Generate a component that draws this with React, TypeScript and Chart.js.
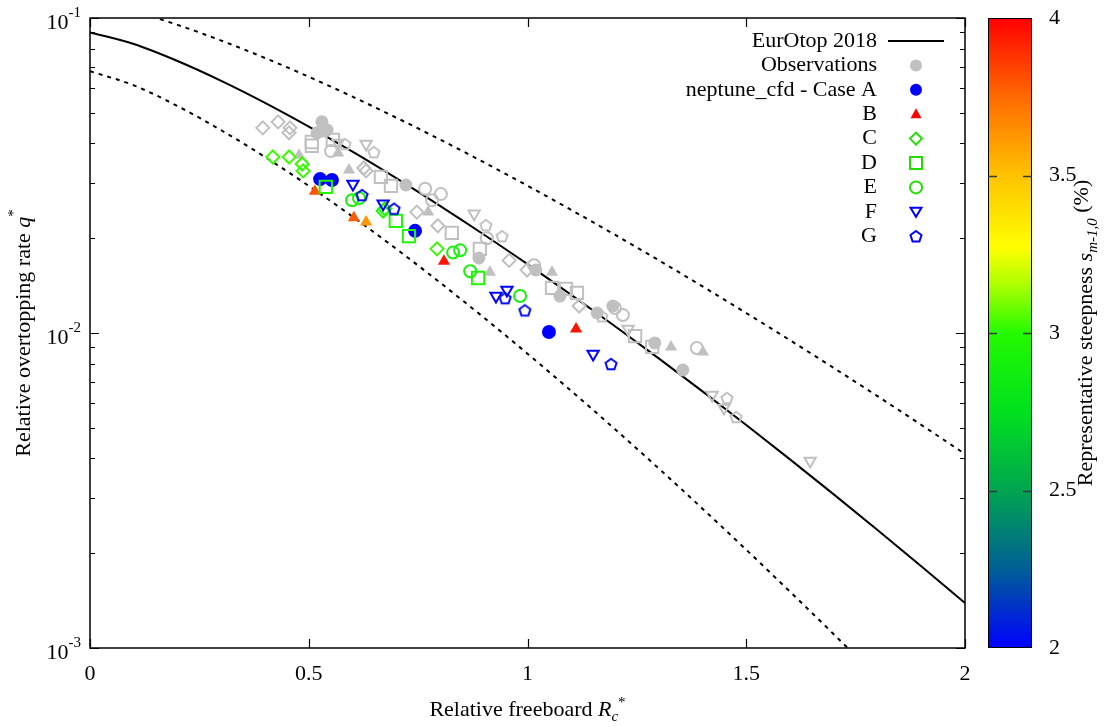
import React, { useEffect, useRef } from "react";
import { Chart, registerables } from "chart.js";

Chart.register(...registerables);

const W = 1107;
const H = 727;
const FONT = "'Liberation Serif', 'Times New Roman', Times, serif";

// ---- EurOtop 2018 mean curve and 90% band, sampled at Rc* = 0, 0.1, ... ----
const curveRc = [0, 0.1, 0.2, 0.3, 0.4, 0.5, 0.6, 0.7, 0.8, 0.9, 1.0, 1.1, 1.2, 1.3, 1.4, 1.5, 1.6, 1.7, 1.8, 1.9, 2.0];
const eurotopQ = [0.09, 0.08267, 0.07302, 0.06316, 0.05379, 0.04523, 0.03763, 0.03101, 0.02534, 0.02055, 0.01654, 0.01322, 0.01051, 0.008306, 0.006528, 0.005104, 0.003971, 0.003074, 0.00237, 0.001818, 0.001389];
const upperQ = [0.11221, 0.10492, 0.09509, 0.08478, 0.07466, 0.06509, 0.05627, 0.04827, 0.04114, 0.03485, 0.02935, 0.02459, 0.02051, 0.01702, 0.01406, 0.01157, 0.009484, 0.007746, 0.006302, 0.00511, 0.004129];
const lowerQ = [0.06779, 0.06113, 0.05254, 0.04402, 0.0362, 0.02931, 0.02342, 0.0185, 0.01446, 0.0112, 0.008598, 0.006548, 0.004949, 0.003715, 0.002769, 0.002051, 0.00151, 0.001106, 0.000805];

// ---- Observations (grey), marker kind per point ----
const obsRc = [
  0.530, 0.542, 0.519, 0.533, 0.722, 0.889, 1.019, 1.074, 1.159, 1.195, 1.291, 1.355,
  0.478, 0.567, 0.592, 0.773, 0.914, 1.056, 1.328, 1.401,
  0.395, 0.430, 0.457, 0.455, 0.626, 0.631, 0.747, 0.795, 0.958, 0.999, 1.118,
  0.507, 0.507, 0.555, 0.665, 0.688, 0.827, 0.891, 1.056, 1.088, 1.113, 1.246, 1.285,
  0.551, 0.766, 0.802, 0.782, 0.907, 1.015, 1.200, 1.218, 1.387,
  0.567, 0.631, 0.878, 1.230, 1.422, 1.449, 1.646,
  0.583, 0.649, 0.905, 0.942, 1.170, 1.456, 1.477,
];
const obsQ = [
  0.0468, 0.0441, 0.0432, 0.0438, 0.0295, 0.0173, 0.01585, 0.0131, 0.01158, 0.01218, 0.0093, 0.00763,
  0.0367, 0.0373, 0.0329, 0.0242, 0.0156, 0.0156, 0.00903, 0.0087,
  0.0448, 0.0468, 0.0448, 0.0432, 0.0334, 0.0327, 0.0242, 0.0219, 0.017, 0.01585, 0.01218,
  0.0404, 0.0393, 0.041, 0.0313, 0.0293, 0.0208, 0.0185, 0.0139, 0.0138, 0.0134, 0.00978, 0.00903,
  0.0378, 0.0287, 0.0276, 0.0264, 0.02, 0.0164, 0.012, 0.0114, 0.00896,
  0.0401, 0.0398, 0.0239, 0.01029, 0.00636, 0.00578, 0.00392,
  0.0398, 0.0375, 0.022, 0.0203, 0.0113, 0.00622, 0.00541,
];
const obsMarker = [
  "fc", "fc", "fc", "fc", "fc", "fc", "fc", "fc", "fc", "fc", "fc", "fc",
  "ft", "ft", "ft", "ft", "ft", "ft", "ft", "ft",
  "od", "od", "od", "od", "od", "od", "od", "od", "od", "od", "od",
  "os", "os", "os", "os", "os", "os", "os", "os", "os", "os", "os", "os",
  "oc", "oc", "oc", "oc", "oc", "oc", "oc", "oc", "oc",
  "ot", "ot", "ot", "ot", "ot", "ot", "ot",
  "op", "op", "op", "op", "op", "op", "op",
];

// ---- neptune_cfd cases: Rc*, q*, steepness (%) ----
const caseARc = [0.526, 0.553, 0.743, 1.049];
const caseAQ = [0.0308, 0.0306, 0.0211, 0.01007];
const caseAS = [2.0, 2.0, 2.0, 2.0];
const caseBRc = [0.514, 0.603, 0.631, 0.809, 1.111];
const caseBQ = [0.0282, 0.0232, 0.0225, 0.0169, 0.0103];
const caseBS = [3.8, 3.78, 3.62, 3.95, 3.96];
const caseCRc = [0.418, 0.455, 0.485, 0.487, 0.67, 0.674, 0.793];
const caseCQ = [0.0362, 0.0362, 0.0344, 0.0327, 0.0244, 0.0248, 0.0185];
const caseCS = [3.03, 3.03, 3.02, 3.02, 3.0, 3.0, 3.03];
const caseDRc = [0.539, 0.699, 0.729, 0.887];
const caseDQ = [0.0291, 0.0227, 0.0203, 0.01495];
const caseDS = [2.98, 2.98, 2.98, 2.98];
const caseERc = [0.599, 0.615, 0.83, 0.846, 0.869, 0.983];
const caseEQ = [0.0264, 0.0268, 0.018, 0.0183, 0.0157, 0.0131];
const caseES = [2.92, 2.92, 2.92, 2.92, 2.92, 2.92];
const caseFRc = [0.601, 0.67, 0.928, 0.953, 1.15];
const caseFQ = [0.0297, 0.0257, 0.0131, 0.0137, 0.00858];
const caseFS = [2.0, 2.0, 2.0, 2.0, 2.0];
const caseGRc = [0.622, 0.695, 0.949, 0.994, 1.191];
const caseGQ = [0.0274, 0.0248, 0.0129, 0.0118, 0.00797];
const caseGS = [2.02, 2.02, 2.02, 2.02, 2.02];

// ---- axis ticks / labels ----
const xTickValues = [0, 0.5, 1, 1.5, 2];
const xTickLabels = ["0", "0.5", "1", "1.5", "2"];
const yTickExponents = [-3, -2, -1];
const cbTickValues = [2, 2.5, 3, 3.5, 4];
const cbTickLabels = ["2", "2.5", "3", "3.5", "4"];
const legendLabels = ["EurOtop 2018", "Observations", "neptune_cfd - Case A", "B", "C", "D", "E", "F", "G"];

// ---- colour map (styles) ----
const CMAP: [number, number[]][] = [
  [2.0, [0, 0, 255]],
  [2.25, [0, 95, 150]],
  [2.5, [0, 165, 80]],
  [2.75, [0, 225, 30]],
  [3.0, [35, 250, 0]],
  [3.15, [170, 255, 0]],
  [3.27, [255, 255, 0]],
  [3.5, [255, 195, 0]],
  [3.75, [255, 105, 0]],
  [4.0, [255, 0, 0]],
];
function cmap(v: number): string {
  if (v <= CMAP[0][0]) return `rgb(${CMAP[0][1].join(",")})`;
  for (let i = 1; i < CMAP.length; i++) {
    if (v <= CMAP[i][0]) {
      const [v0, c0] = CMAP[i - 1];
      const [v1, c1] = CMAP[i];
      const t = (v - v0) / (v1 - v0);
      const c = c0.map((a, k) => Math.round(a + (c1[k] - a) * t));
      return `rgb(${c.join(",")})`;
    }
  }
  return `rgb(${CMAP[CMAP.length - 1][1].join(",")})`;
}

const GREY = "#c0c0c0";

function makePentagon(color: string, r: number, lw: number): HTMLCanvasElement {
  const size = Math.ceil(2 * r + lw + 2);
  const c = document.createElement("canvas");
  c.width = size;
  c.height = size;
  const g = c.getContext("2d")!;
  g.strokeStyle = color;
  g.lineWidth = lw;
  g.lineJoin = "miter";
  g.beginPath();
  for (let i = 0; i < 5; i++) {
    const a = -Math.PI / 2 + (i * 2 * Math.PI) / 5;
    const px = size / 2 + r * Math.cos(a);
    const py = size / 2 + 0.6 + r * Math.sin(a);
    if (i === 0) g.moveTo(px, py);
    else g.lineTo(px, py);
  }
  g.closePath();
  g.stroke();
  return c;
}

type Mk = { style: any; radius: number; filled: boolean; rotation: number };
function markerStyle(kind: string, color: string): Mk {
  switch (kind) {
    case "fc": return { style: "circle", radius: 6.5, filled: true, rotation: 0 };
    case "fcA": return { style: "circle", radius: 7, filled: true, rotation: 0 };
    case "ft": return { style: "triangle", radius: 7, filled: true, rotation: 0 };
    case "od": return { style: "rectRot", radius: 6.5, filled: false, rotation: 0 };
    case "os": return { style: "rect", radius: 8.7, filled: false, rotation: 0 };
    case "oc": return { style: "circle", radius: 6, filled: false, rotation: 0 };
    case "ot": return { style: "triangle", radius: 6.5, filled: false, rotation: 180 };
    case "op": return { style: makePentagon(color, 5.8, 2), radius: 6, filled: false, rotation: 0 };
  }
  return { style: "circle", radius: 5, filled: true, rotation: 0 };
}

function pointsDataset(label: string, rc: number[], q: number[], kinds: string[], colors: string[], order: number) {
  const ms = kinds.map((k, i) => markerStyle(k, colors[i]));
  return {
    label,
    data: rc.map((x, i) => ({ x, y: q[i] })),
    showLine: false,
    order,
    pointStyle: ms.map((m) => m.style),
    pointRadius: ms.map((m) => m.radius),
    pointRotation: ms.map((m) => m.rotation),
    pointBackgroundColor: ms.map((m, i) => (m.filled ? colors[i] : "rgba(0,0,0,0)")),
    pointBorderColor: colors,
    pointBorderWidth: ms.map((m) => (m.filled ? 0 : 2)),
  };
}

function caseDataset(label: string, rc: number[], q: number[], s: number[], kind: string, order: number) {
  return pointsDataset(label, rc, q, rc.map(() => kind), s.map(cmap), order);
}

function curveDataset(label: string, xs: number[], ys: number[], dash: number[]) {
  return {
    label,
    data: ys.map((y, i) => ({ x: xs[i], y })),
    showLine: true,
    borderColor: "#000",
    borderWidth: 2,
    borderDash: dash,
    pointRadius: 0,
    cubicInterpolationMode: "monotone",
    order: 20,
    clip: 0,
  };
}

type Part = { t: string; italic?: boolean; size?: number; dy?: number };
function fontOf(p: Part) {
  return `${p.italic ? "italic " : ""}${p.size || 22}px ${FONT}`;
}
function drawRich(ctx: CanvasRenderingContext2D, parts: Part[], x: number, y: number, align: string) {
  let w = 0;
  for (const p of parts) {
    ctx.font = fontOf(p);
    w += ctx.measureText(p.t).width;
  }
  let cx = align === "center" ? x - w / 2 : align === "right" ? x - w : x;
  ctx.textAlign = "left";
  ctx.textBaseline = "alphabetic";
  for (const p of parts) {
    ctx.font = fontOf(p);
    ctx.fillText(p.t, cx, y + (p.dy || 0));
    cx += ctx.measureText(p.t).width;
  }
}

function drawLegendMarker(ctx: CanvasRenderingContext2D, kind: string, x: number, y: number, color: string) {
  ctx.save();
  ctx.strokeStyle = color;
  ctx.fillStyle = color;
  ctx.lineWidth = 2;
  ctx.beginPath();
  if (kind === "fc") {
    ctx.arc(x, y, 6, 0, Math.PI * 2);
    ctx.fill();
  } else if (kind === "ft") {
    ctx.moveTo(x, y - 6);
    ctx.lineTo(x + 5.5, y + 4);
    ctx.lineTo(x - 5.5, y + 4);
    ctx.closePath();
    ctx.fill();
  } else if (kind === "od") {
    ctx.moveTo(x, y - 6);
    ctx.lineTo(x + 6, y);
    ctx.lineTo(x, y + 6);
    ctx.lineTo(x - 6, y);
    ctx.closePath();
    ctx.stroke();
  } else if (kind === "os") {
    ctx.rect(x - 6, y - 6, 12, 12);
    ctx.stroke();
  } else if (kind === "oc") {
    ctx.arc(x, y, 6, 0, Math.PI * 2);
    ctx.stroke();
  } else if (kind === "ot") {
    ctx.moveTo(x - 5.5, y - 4);
    ctx.lineTo(x + 5.5, y - 4);
    ctx.lineTo(x, y + 5);
    ctx.closePath();
    ctx.stroke();
  } else if (kind === "op") {
    for (let i = 0; i < 5; i++) {
      const a = -Math.PI / 2 + (i * 2 * Math.PI) / 5;
      const px = x + 5.8 * Math.cos(a);
      const py = y + 0.6 + 5.8 * Math.sin(a);
      if (i === 0) ctx.moveTo(px, py);
      else ctx.lineTo(px, py);
    }
    ctx.closePath();
    ctx.stroke();
  }
  ctx.restore();
}

const framePlugin = {
  id: "gnuframe",
  afterDraw(chart: any) {
    const { ctx, chartArea: a, scales } = chart;
    const xs = scales.x;
    const ys = scales.y;
    const cbs = scales.cb;
    ctx.save();
    ctx.strokeStyle = "#000";
    ctx.fillStyle = "#000";
    ctx.lineWidth = 1.5;
    ctx.strokeRect(a.left, a.top, a.right - a.left, a.bottom - a.top);

    // x ticks (inward, mirrored)
    ctx.lineWidth = 1.2;
    ctx.beginPath();
    for (const v of xTickValues) {
      const px = Math.round(xs.getPixelForValue(v)) + 0.5;
      ctx.moveTo(px, a.bottom);
      ctx.lineTo(px, a.bottom - 9);
      ctx.moveTo(px, a.top);
      ctx.lineTo(px, a.top + 9);
    }
    // y ticks (log, major + minor)
    for (const e of yTickExponents) {
      for (let k = 1; k <= 9; k++) {
        const v = k * Math.pow(10, e);
        if (v > 0.1 + 1e-12) continue;
        const py = Math.round(ys.getPixelForValue(v)) + 0.5;
        const len = k === 1 ? 9 : 5;
        ctx.moveTo(a.left, py);
        ctx.lineTo(a.left + len, py);
        ctx.moveTo(a.right, py);
        ctx.lineTo(a.right - len, py);
      }
    }
    ctx.stroke();

    // y tick labels: 10^e
    for (const e of yTickExponents) {
      const py = ys.getPixelForValue(Math.pow(10, e));
      drawRich(ctx, [{ t: "10", size: 22, dy: 11 }, { t: String(e), size: 15, dy: -1 }], 81, py, "right");
    }

    // axis titles
    drawRich(
      ctx,
      [
        { t: "Relative freeboard ", size: 22 },
        { t: "R", italic: true, size: 22 },
        { t: "c", italic: true, size: 15, dy: 5 },
        { t: "*", size: 15, dy: -9 },
      ],
      (a.left + a.right) / 2,
      716,
      "center"
    );
    ctx.save();
    ctx.translate(30, (a.top + a.bottom) / 2);
    ctx.rotate(-Math.PI / 2);
    drawRich(
      ctx,
      [
        { t: "Relative overtopping rate ", size: 22 },
        { t: "q", italic: true, size: 22 },
        { t: "*", size: 15, dy: -12 },
      ],
      0,
      0,
      "center"
    );
    ctx.restore();

    // colour bar
    const bl = 988;
    const br = 1032;
    const bt = cbs.getPixelForValue(4);
    const bb = cbs.getPixelForValue(2);
    const grad = ctx.createLinearGradient(0, bb, 0, bt);
    for (const [v, c] of CMAP) grad.addColorStop((v - 2) / 2, `rgb(${c.join(",")})`);
    ctx.fillStyle = grad;
    ctx.fillRect(bl, bt, br - bl, bb - bt);
    ctx.strokeStyle = "#000";
    ctx.lineWidth = 1;
    ctx.strokeRect(bl + 0.5, bt + 0.5, br - bl - 1, bb - bt - 1);
    ctx.strokeStyle = "#3a3a3a";
    ctx.lineWidth = 1.5;
    ctx.beginPath();
    for (const v of cbTickValues) {
      if (v === 2 || v === 4) continue;
      const py = Math.round(cbs.getPixelForValue(v)) + 0.5;
      ctx.moveTo(bl, py);
      ctx.lineTo(bl + 9, py);
      ctx.moveTo(br, py);
      ctx.lineTo(br - 9, py);
    }
    ctx.stroke();
    ctx.fillStyle = "#000";
    ctx.save();
    ctx.translate(1092, (bt + bb) / 2);
    ctx.rotate(-Math.PI / 2);
    drawRich(
      ctx,
      [
        { t: "Representative steepness ", size: 22 },
        { t: "s", italic: true, size: 22 },
        { t: "m-1,0", italic: true, size: 15, dy: 5 },
        { t: " (%)", size: 22, dy: -4 },
      ],
      0,
      0,
      "center"
    );
    ctx.restore();

    // legend
    const rowY0 = 41;
    const rowStep = 24.4;
    const legendKinds = ["line", "fc", "fc", "ft", "od", "os", "oc", "ot", "op"];
    const legendColors = ["#000", GREY, "#0000ff", "#ff0000", "#22dd00", "#22dd00", "#22dd00", "#0000ff", "#0000ff"];
    for (let i = 0; i < legendLabels.length; i++) {
      const y = rowY0 + i * rowStep;
      ctx.fillStyle = "#000";
      ctx.font = `22px ${FONT}`;
      ctx.textAlign = "right";
      ctx.textBaseline = "middle";
      ctx.fillText(legendLabels[i], 877, y);
      if (legendKinds[i] === "line") {
        ctx.strokeStyle = "#000";
        ctx.lineWidth = 2;
        ctx.beginPath();
        ctx.moveTo(888, y);
        ctx.lineTo(944, y);
        ctx.stroke();
      } else {
        drawLegendMarker(ctx, legendKinds[i], 916, y, legendColors[i]);
      }
    }
    ctx.restore();
  },
};

export default function App() {
  const ref = useRef<HTMLCanvasElement>(null);
  useEffect(() => {
    if (!ref.current) return;
    const obsColors = obsRc.map(() => GREY);
    const datasets: any[] = [
      curveDataset("EurOtop 2018", curveRc, eurotopQ, []),
      curveDataset("upper", curveRc, upperQ, [4, 5]),
      curveDataset("lower", curveRc, lowerQ, [4, 5]),
      pointsDataset("Observations", obsRc, obsQ, obsMarker, obsColors, 10),
      caseDataset("neptune_cfd - Case A", caseARc, caseAQ, caseAS, "fcA", 7),
      caseDataset("B", caseBRc, caseBQ, caseBS, "ft", 6),
      caseDataset("C", caseCRc, caseCQ, caseCS, "od", 5),
      caseDataset("D", caseDRc, caseDQ, caseDS, "os", 4),
      caseDataset("E", caseERc, caseEQ, caseES, "oc", 3),
      caseDataset("F", caseFRc, caseFQ, caseFS, "ot", 2),
      caseDataset("G", caseGRc, caseGQ, caseGS, "op", 1),
    ];
    const chart = new Chart(ref.current, {
      type: "scatter",
      data: { datasets },
      options: {
        responsive: false,
        animation: false,
        devicePixelRatio: 1,
        events: [],
        layout: { padding: { top: 18, left: 0, right: 0, bottom: 0 } },
        plugins: { legend: { display: false }, tooltip: { enabled: false } },
        scales: {
          x: {
            type: "linear",
            min: 0,
            max: 2,
            position: "bottom",
            grid: { display: false },
            border: { display: false },
            ticks: {
              stepSize: 0.5,
              color: "#000",
              padding: 5,
              maxRotation: 0,
              autoSkip: false,
              font: { family: FONT, size: 22 },
              callback: (v: any) => {
                const i = xTickValues.findIndex((t) => Math.abs(t - Number(v)) < 1e-9);
                return i >= 0 ? xTickLabels[i] : "";
              },
            },
            afterFit: (s: any) => {
              s.height = 79;
              s.paddingLeft = 0;
              s.paddingRight = 0;
            },
          },
          y: {
            type: "logarithmic",
            min: 0.001,
            max: 0.1,
            position: "left",
            grid: { display: false },
            border: { display: false },
            ticks: { display: false },
            afterFit: (s: any) => {
              s.width = 90;
              s.paddingTop = 0;
              s.paddingBottom = 0;
            },
          },
          cb: {
            type: "linear",
            min: 2,
            max: 4,
            position: "right",
            grid: { display: false },
            border: { display: false },
            ticks: {
              stepSize: 0.5,
              color: "#000",
              padding: 76,
              font: { family: FONT, size: 22 },
              callback: (v: any) => {
                const i = cbTickValues.findIndex((t) => Math.abs(t - Number(v)) < 1e-9);
                return i >= 0 ? cbTickLabels[i] : "";
              },
            },
            afterFit: (s: any) => {
              s.width = 142;
              s.paddingTop = 0;
              s.paddingBottom = 0;
            },
          },
        },
      } as any,
      plugins: [framePlugin],
    });
    return () => chart.destroy();
  }, []);

  return (
    <div style={{ position: "fixed", left: 0, top: 0, width: W, height: H, background: "#fff" }}>
      <canvas ref={ref} width={W} height={H} style={{ width: W, height: H, display: "block" }} />
    </div>
  );
}
